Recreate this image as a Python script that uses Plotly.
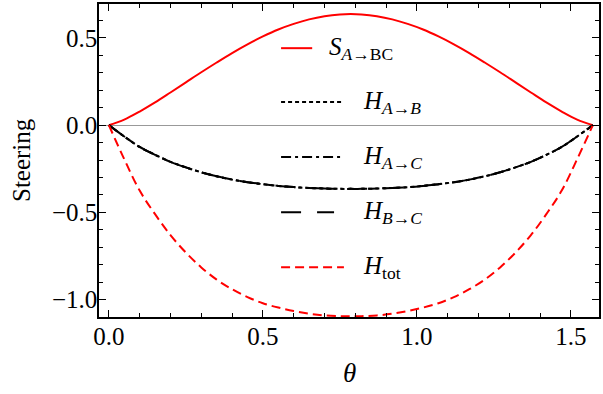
import plotly.graph_objects as go

# theta grid and curves
theta = [0.0, 0.05, 0.10, 0.15, 0.20, 0.25, 0.30, 0.35, 0.40, 0.45, 0.50, 0.55,
         0.60, 0.65, 0.70, 0.75, 0.785, 0.82, 0.87, 0.92, 0.97, 1.02, 1.07,
         1.12, 1.17, 1.22, 1.27, 1.32, 1.37, 1.42, 1.47, 1.52, 1.571]

s_a_bc = [0.0, 0.032, 0.078, 0.130, 0.187, 0.245, 0.303, 0.359, 0.413, 0.463,
          0.508, 0.548, 0.580, 0.606, 0.624, 0.634, 0.636, 0.634, 0.624, 0.606,
          0.580, 0.548, 0.508, 0.463, 0.413, 0.359, 0.303, 0.245, 0.187, 0.130,
          0.078, 0.032, 0.0]

h_ab = [0.0, -0.065, -0.125, -0.17, -0.21, -0.242, -0.27, -0.293, -0.312, -0.327,
        -0.338, -0.348, -0.355, -0.36, -0.363, -0.365, -0.365, -0.365, -0.363,
        -0.36, -0.355, -0.348, -0.338, -0.327, -0.312, -0.293, -0.27, -0.242,
        -0.21, -0.17, -0.125, -0.065, 0.0]
h_ac = list(h_ab)
h_bc = list(h_ab)

h_tot = [0.0, -0.195, -0.375, -0.51, -0.63, -0.73, -0.815, -0.885, -0.94, -0.985,
         -1.02, -1.045, -1.065, -1.08, -1.09, -1.094, -1.095, -1.094, -1.09,
         -1.08, -1.065, -1.045, -1.02, -0.985, -0.94, -0.885, -0.815, -0.73,
         -0.63, -0.51, -0.375, -0.195, 0.0]

x_ticks = [0.0, 0.5, 1.0, 1.5]
x_text = ["0.0", "0.5", "1.0", "1.5"]
y_ticks = [-1.0, -0.5, 0.0, 0.5]
y_text = ["\u22121.0", "\u22120.5", "0.0", "0.5"]

FONT = "Liberation Serif, Times New Roman, serif"
RED = "#ff0000"

series = [
    ("<i>S</i><sub><i>A</i>\u2192BC</sub>", s_a_bc, RED, "solid"),
    ("<i>H</i><sub><i>A</i>\u2192<i>B</i></sub>", h_ab, "black", "4px,3px"),
    ("<i>H</i><sub><i>A</i>\u2192<i>C</i></sub>", h_ac, "black", "10px,4px,3px,4px"),
    ("<i>H</i><sub><i>B</i>\u2192<i>C</i></sub>", h_bc, "black", "20px,16px"),
    ("<i>H</i><sub>tot</sub>", h_tot, RED, "9px,5px"),
]

fig = go.Figure()
for name, vals, col, dash in series:
    fig.add_trace(go.Scatter(x=theta, y=vals, mode="lines", name=name,
                             line=dict(color=col, width=2, dash=dash, shape="spline"),
                             showlegend=False))

# hand-made legend inside the frame (like the Mathematica one)
leg_y = [0.441, 0.132, -0.183, -0.499, -0.814]
leg_x1 = [0.66, 0.763, 0.757, 0.731, 0.763]
leg_tx = [0.708, 0.818, 0.818, 0.818, 0.818]
for (name, vals, col, dash), yy, x1, tx in zip(series, leg_y, leg_x1, leg_tx):
    fig.add_shape(type="line", xref="x", yref="y", x0=0.559, x1=x1, y0=yy, y1=yy,
                  line=dict(color=col, width=2, dash=dash))
    fig.add_annotation(x=tx, y=yy, xref="x", yref="y", text=name, showarrow=False,
                       xanchor="left", yanchor="middle",
                       font=dict(family=FONT, size=25, color="black"))

fig.add_annotation(x=-0.155, y=0.5, xref="paper", yref="paper", text="Steering",
                   textangle=-90, showarrow=False, xanchor="center", yanchor="middle",
                   font=dict(family=FONT, size=25, color="black"))
fig.add_annotation(x=0.5, y=-0.18, xref="paper", yref="paper", text="<i>\u03b8</i>",
                   showarrow=False, xanchor="center", yanchor="middle",
                   font=dict(family=FONT, size=27, color="black"))

axis_common = dict(showline=True, linecolor="black", linewidth=1.5, mirror="ticks",
                   ticks="inside", ticklen=7, tickwidth=1, tickcolor="black",
                   showgrid=False,
                   tickfont=dict(family=FONT, size=25, color="black"),
                   minor=dict(ticks="inside", ticklen=4, tickcolor="black",
                              dtick=0.1, showgrid=False))

fig.update_xaxes(range=[-0.032, 1.591], tickvals=x_ticks, ticktext=x_text,
                 zeroline=False, ticklabelstandoff=-4, **axis_common)
fig.update_yaxes(range=[-1.099, 0.694], tickvals=y_ticks, ticktext=y_text,
                 zeroline=True, zerolinecolor="#999999", zerolinewidth=1,
                 ticklabelstandoff=-5, **axis_common)

fig.update_layout(width=603, height=394, margin=dict(l=99, r=2, t=4, b=77),
                  plot_bgcolor="white", paper_bgcolor="white")

fig.write_html("out.html", config={"displayModeBar": False},
               post_script="document.body.style.margin='0';")
